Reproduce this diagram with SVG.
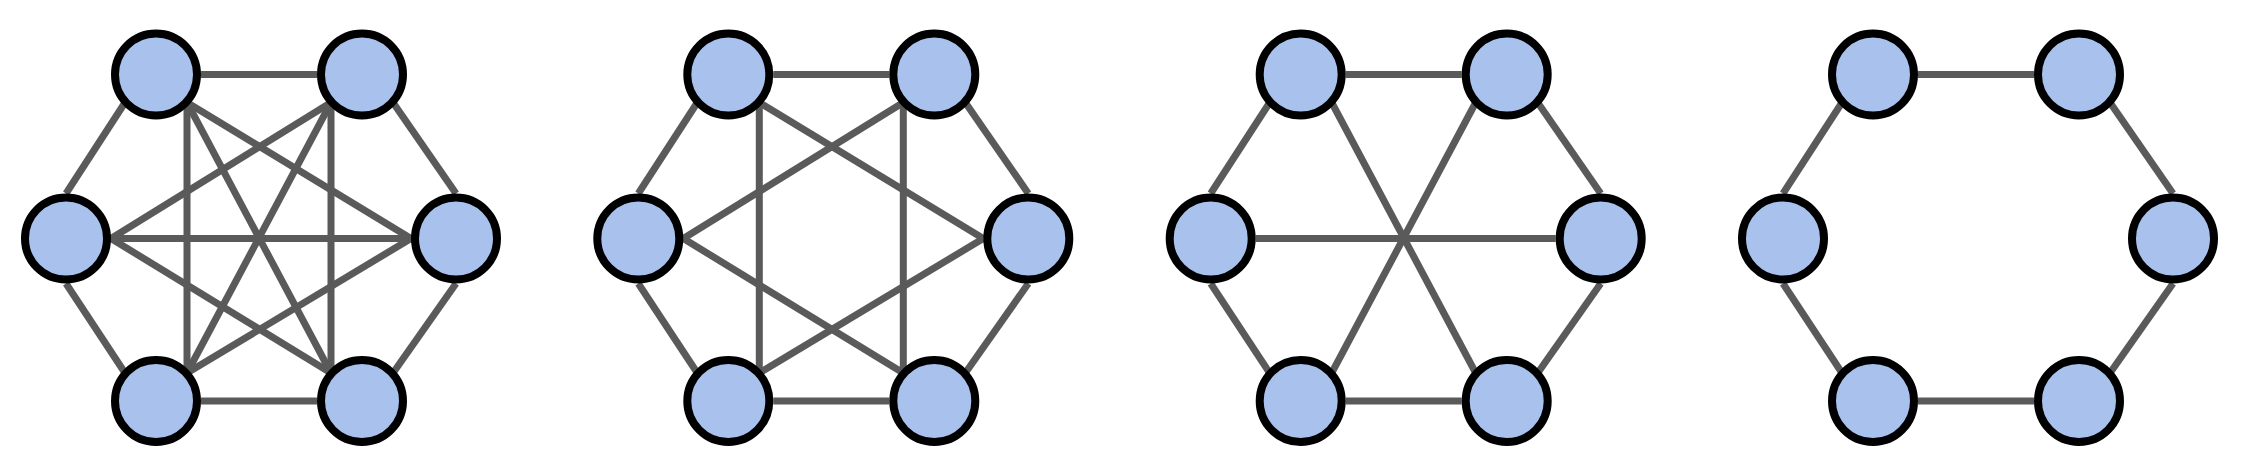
<svg xmlns="http://www.w3.org/2000/svg" width="2242" height="474" viewBox="0 0 2242 474">
<style>
.e{stroke:#5a5a5a;stroke-width:7;fill:none;stroke-linecap:butt}
.n{fill:#a9c2ed;stroke:#000;stroke-width:8}
</style>
<rect width="2242" height="474" fill="#fff"/>
<g id="connectors">
  <g id="p1-edges" transform="translate(0,0)">
    <line class="e" x1="201" y1="74.5" x2="317" y2="74.5"/>
    <line class="e" x1="201" y1="401" x2="317" y2="401"/>
    <line class="e" x1="125" y1="102.5" x2="66" y2="193.5"/>
    <line class="e" x1="393" y1="102.5" x2="456" y2="193.5"/>
    <line class="e" x1="66" y1="283.5" x2="125" y2="373"/>
    <line class="e" x1="456" y1="283.5" x2="393" y2="373"/>
    <line class="e" x1="187" y1="102.5" x2="187" y2="373"/>
    <line class="e" x1="331" y1="102.5" x2="331" y2="373"/>
    <line class="e" x1="187" y1="102.5" x2="411" y2="238.5"/>
    <line class="e" x1="331" y1="102.5" x2="111" y2="238.5"/>
    <line class="e" x1="111" y1="238.5" x2="331" y2="373"/>
    <line class="e" x1="411" y1="238.5" x2="187" y2="373"/>
    <line class="e" x1="111" y1="238.5" x2="411" y2="238.5"/>
    <line class="e" x1="187" y1="102.5" x2="331" y2="373"/>
    <line class="e" x1="331" y1="102.5" x2="187" y2="373"/>
  </g>
  <g id="p2-edges" transform="translate(572.3,0)">
    <line class="e" x1="201" y1="74.5" x2="317" y2="74.5"/>
    <line class="e" x1="201" y1="401" x2="317" y2="401"/>
    <line class="e" x1="125" y1="102.5" x2="66" y2="193.5"/>
    <line class="e" x1="393" y1="102.5" x2="456" y2="193.5"/>
    <line class="e" x1="66" y1="283.5" x2="125" y2="373"/>
    <line class="e" x1="456" y1="283.5" x2="393" y2="373"/>
    <line class="e" x1="187" y1="102.5" x2="187" y2="373"/>
    <line class="e" x1="331" y1="102.5" x2="331" y2="373"/>
    <line class="e" x1="187" y1="102.5" x2="411" y2="238.5"/>
    <line class="e" x1="331" y1="102.5" x2="111" y2="238.5"/>
    <line class="e" x1="111" y1="238.5" x2="331" y2="373"/>
    <line class="e" x1="411" y1="238.5" x2="187" y2="373"/>
  </g>
  <g id="p3-edges" transform="translate(1144.7,0)">
    <line class="e" x1="201" y1="74.5" x2="317" y2="74.5"/>
    <line class="e" x1="201" y1="401" x2="317" y2="401"/>
    <line class="e" x1="125" y1="102.5" x2="66" y2="193.5"/>
    <line class="e" x1="393" y1="102.5" x2="456" y2="193.5"/>
    <line class="e" x1="66" y1="283.5" x2="125" y2="373"/>
    <line class="e" x1="456" y1="283.5" x2="393" y2="373"/>
    <line class="e" x1="111" y1="238.5" x2="411" y2="238.5"/>
    <line class="e" x1="187" y1="102.5" x2="331" y2="373"/>
    <line class="e" x1="331" y1="102.5" x2="187" y2="373"/>
  </g>
  <g id="p4-edges" transform="translate(1717,0)">
    <line class="e" x1="201" y1="74.5" x2="317" y2="74.5"/>
    <line class="e" x1="201" y1="401" x2="317" y2="401"/>
    <line class="e" x1="125" y1="102.5" x2="66" y2="193.5"/>
    <line class="e" x1="393" y1="102.5" x2="456" y2="193.5"/>
    <line class="e" x1="66" y1="283.5" x2="125" y2="373"/>
    <line class="e" x1="456" y1="283.5" x2="393" y2="373"/>
  </g>
</g>
<g id="p1-nodes" transform="translate(0,0)">
  <g id="p1-tl"><circle class="n" cx="156" cy="74.5" r="41"/></g>
  <g id="p1-tr"><circle class="n" cx="362" cy="74.5" r="41"/></g>
  <g id="p1-l"><circle class="n" cx="66" cy="238.5" r="41"/></g>
  <g id="p1-r"><circle class="n" cx="456" cy="238.5" r="41"/></g>
  <g id="p1-bl"><circle class="n" cx="156" cy="401" r="41"/></g>
  <g id="p1-br"><circle class="n" cx="362" cy="401" r="41"/></g>
</g>
<g id="p2-nodes" transform="translate(572.3,0)">
  <g id="p2-tl"><circle class="n" cx="156" cy="74.5" r="41"/></g>
  <g id="p2-tr"><circle class="n" cx="362" cy="74.5" r="41"/></g>
  <g id="p2-l"><circle class="n" cx="66" cy="238.5" r="41"/></g>
  <g id="p2-r"><circle class="n" cx="456" cy="238.5" r="41"/></g>
  <g id="p2-bl"><circle class="n" cx="156" cy="401" r="41"/></g>
  <g id="p2-br"><circle class="n" cx="362" cy="401" r="41"/></g>
</g>
<g id="p3-nodes" transform="translate(1144.7,0)">
  <g id="p3-tl"><circle class="n" cx="156" cy="74.5" r="41"/></g>
  <g id="p3-tr"><circle class="n" cx="362" cy="74.5" r="41"/></g>
  <g id="p3-l"><circle class="n" cx="66" cy="238.5" r="41"/></g>
  <g id="p3-r"><circle class="n" cx="456" cy="238.5" r="41"/></g>
  <g id="p3-bl"><circle class="n" cx="156" cy="401" r="41"/></g>
  <g id="p3-br"><circle class="n" cx="362" cy="401" r="41"/></g>
</g>
<g id="p4-nodes" transform="translate(1717,0)">
  <g id="p4-tl"><circle class="n" cx="156" cy="74.5" r="41"/></g>
  <g id="p4-tr"><circle class="n" cx="362" cy="74.5" r="41"/></g>
  <g id="p4-l"><circle class="n" cx="66" cy="238.5" r="41"/></g>
  <g id="p4-r"><circle class="n" cx="456" cy="238.5" r="41"/></g>
  <g id="p4-bl"><circle class="n" cx="156" cy="401" r="41"/></g>
  <g id="p4-br"><circle class="n" cx="362" cy="401" r="41"/></g>
</g>
</svg>
